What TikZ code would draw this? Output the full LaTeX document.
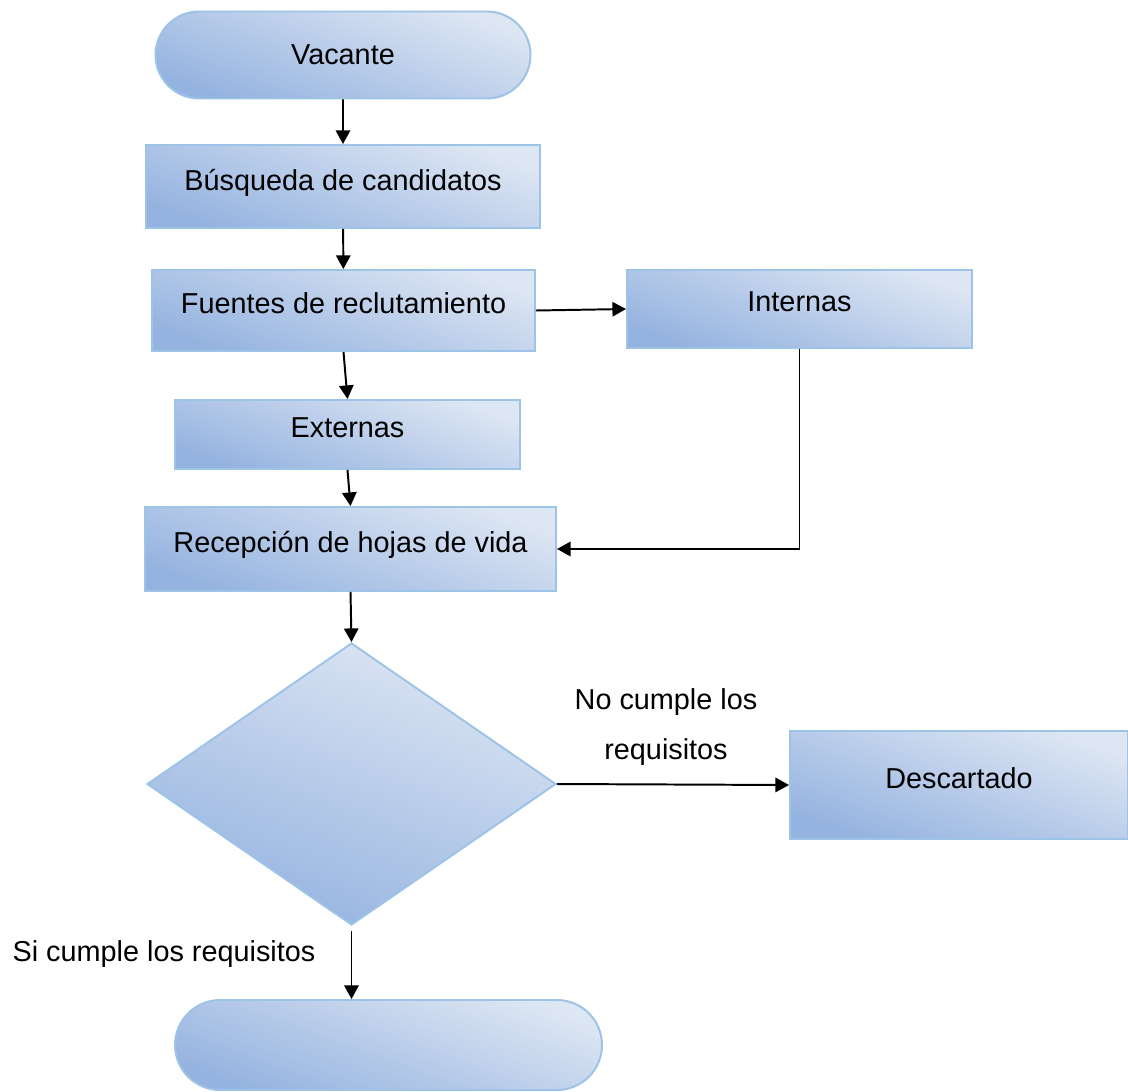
\documentclass[tikz,border=0pt]{standalone}
\usepackage{fontspec}
\setmainfont{Liberation Sans}
\usetikzlibrary{arrows.meta, positioning, shapes.geometric, shapes.misc}
\definecolor{flowlight}{HTML}{DDE6F3}
\definecolor{flowdark}{HTML}{95B3E0}
\definecolor{flowedge}{HTML}{9DC3E6}

\begin{document}
\begin{tikzpicture}[font=\fontsize{20.5}{24}\selectfont,
    bluefill/.style={draw=flowedge, line width=1.4pt, top color=flowlight,
                     bottom color=flowdark, shading angle=-20},
    procbox/.style={rectangle, bluefill, inner sep=0pt, text depth=0.35cm},
    terminal/.style={rounded rectangle, bluefill, inner sep=0pt},
    decision/.style={diamond, bluefill, inner sep=0pt},
    flow/.style={-{Triangle[length=0.34cm, width=0.36cm]}, line width=1.4pt},
    lbl/.style={inner sep=0pt},
]
    \useasboundingbox (0, 0) rectangle (28.2, -27.275);

    % main column
    \node[terminal, minimum width=9.375cm, minimum height=2.175cm] (vacante) at (8.575, -1.375) {Vacante};
    \node[procbox, minimum width=9.85cm, minimum height=2.075cm] (busqueda) at (8.575, -4.6625) {Búsqueda de candidatos};
    \node[procbox, minimum width=9.575cm, minimum height=2.025cm] (fuentes) at (8.5875, -7.7625) {Fuentes de reclutamiento};
    \node[procbox, minimum width=8.625cm, minimum height=1.95cm] (internas) at (19.9875, -7.725) {Internas};
    \node[procbox, minimum width=8.625cm, minimum height=1.725cm] (externas) at (8.6875, -10.8625) {Externas};
    \node[procbox, minimum width=10.275cm, minimum height=2.1cm] (recepcion) at (8.7625, -13.725) {Recepción de hojas de vida};

    % decision
    \node[decision, minimum width=10.225cm, minimum height=7.05cm] (check) at (8.7875, -19.6) {};
    \node[procbox, minimum width=8.45cm, minimum height=2.7cm] (descartado) at (23.975, -19.625) {Descartado};
    \node[terminal, minimum width=10.675cm, minimum height=2.25cm] (fin) at (9.7125, -26.125) {};

    % connectors
    \draw[flow] (vacante) -- (busqueda);
    \draw[flow] (busqueda) -- (fuentes);
    \draw[flow] (fuentes.east) -- (internas.west);
    \draw[flow] (fuentes.south) -- (externas.north);
    \draw[flow] (externas.south) -- (recepcion.north);
    \draw[flow] (internas.south) |- (recepcion.east);
    \draw[flow] (recepcion.south) -- (check.north);
    \draw[flow] (check.east) -- (descartado.west);
    \draw[flow, shorten <=0.13cm] (check.south) -- (check.south |- fin.north);

    % labels
    \node[lbl, align=center, font=\fontsize{20.5}{35.6}\selectfont] (nolbl) at (16.65, -18.175) {No cumple los\\requisitos};
    \node[lbl] (silbl) at (4.1, -23.85) {Si cumple los requisitos};
\end{tikzpicture}
\end{document}
